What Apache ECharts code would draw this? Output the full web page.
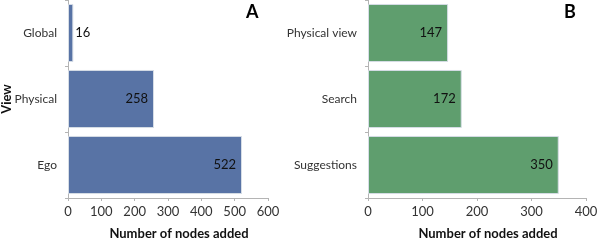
<!DOCTYPE html>
<html><head><meta charset="utf-8">
<script src="https://cdn.jsdelivr.net/npm/echarts@6/dist/echarts.min.js"></script>
<style>html,body{margin:0;padding:0;background:#fff}#c{width:598px;height:241px}</style>
</head><body><div id="c"></div>
<script>
const viewCategories = ['Global', 'Physical', 'Ego'];
const viewValues = [16, 258, 522];
const sourceCategories = ['Physical view', 'Search', 'Suggestions'];
const sourceValues = [147, 172, 350];
const xTicksA = [0, 600, 100];
const xTicksB = [0, 400, 100];

const FONT = 'Lato';
const axisColor = '#b4b4b4';
const textColor = '#333';

function xAxis(idx, t) {
  return {
    type: 'value', gridIndex: idx, min: t[0], max: t[1], interval: t[2],
    name: 'Number of nodes added', nameLocation: 'middle', nameGap: 29, nameMoveOverlap: false,
    nameTextStyle: { fontFamily: FONT, fontWeight: 'bold', fontSize: 13, color: '#111', padding: [0, 0, 0, 22] },
    axisLine: { show: true, lineStyle: { color: axisColor } },
    axisTick: { show: true, length: 3, lineStyle: { color: axisColor } },
    axisLabel: { fontFamily: FONT, fontSize: 13, color: textColor, margin: 7 },
    splitLine: { show: false }
  };
}
function yAxis(idx, cats, name) {
  return {
    type: 'category', gridIndex: idx, data: cats, inverse: true,
    name: name, nameLocation: 'middle', nameGap: 55, nameRotate: 90, nameMoveOverlap: false,
    nameTextStyle: { fontFamily: FONT, fontWeight: 'bold', fontSize: 13, color: '#111' },
    axisLine: { show: true, lineStyle: { color: axisColor } },
    axisTick: { show: true, length: 3, lineStyle: { color: axisColor } },
    axisLabel: { fontFamily: FONT, fontSize: 12, color: textColor, margin: 11 }
  };
}
function series(idx, vals, color, outsideIdx) {
  return {
    type: 'bar', xAxisIndex: idx, yAxisIndex: idx, barCategoryGap: '12%',
    data: vals.map((v, i) => ({
      value: v,
      label: i === outsideIdx ? { position: 'right', distance: 2 } : {}
    })),
    itemStyle: { color: color, borderColor: '#d6dde6', borderWidth: 1 },
    label: { show: true, position: 'insideRight', distance: 6, fontFamily: FONT, fontSize: 13, color: '#111' },
    emphasis: { disabled: true }, animation: false
  };
}
const chart = echarts.init(document.getElementById('c'), null, { renderer: 'canvas' });
chart.setOption({
  animation: false,
  grid: [
    { left: 68, right: 330, top: 0, bottom: 43, containLabel: false, outerBoundsMode: 'none' },
    { left: 368, right: 12, top: 0, bottom: 43, containLabel: false, outerBoundsMode: 'none' }
  ],
  xAxis: [xAxis(0, xTicksA), xAxis(1, xTicksB)],
  yAxis: [yAxis(0, viewCategories, 'View'), Object.assign(yAxis(1, sourceCategories, ''), { name: '' })],
  series: [series(0, viewValues, '#5873a5', 0), series(1, sourceValues, '#5f9e6e', -1)],
  graphic: [
    { type: 'text', left: 246, top: 3, style: { text: 'A', font: 'bold 18px ' + FONT, fill: '#000' } },
    { type: 'text', left: 564, top: 3, style: { text: 'B', font: 'bold 18px ' + FONT, fill: '#000' } }
  ]
});
</script></body></html>
